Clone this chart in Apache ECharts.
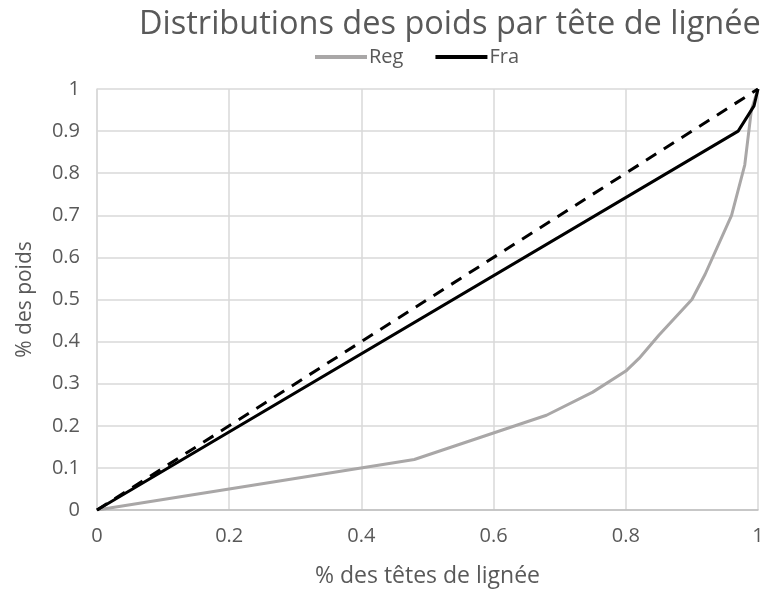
<!DOCTYPE html>
<html>
<head>
<meta charset="utf-8">
<script src="https://cdn.jsdelivr.net/npm/echarts@6/dist/echarts.min.js"></script>
<style>
  html, body { margin: 0; padding: 0; background: #fff; }
  #chart { width: 763px; height: 594px; }
</style>
</head>
<body>
<div id="chart"></div>
<script>
// Cumulative share of heads of lineage (x) vs cumulative share of weights (y)
const regX = [0, 0.2, 0.48, 0.68, 0.75, 0.80, 0.82, 0.85, 0.90, 0.92, 0.96, 0.98, 0.99, 1];
const regY = [0, 0.05, 0.12, 0.225, 0.28, 0.33, 0.36, 0.415, 0.50, 0.56, 0.70, 0.82, 0.95, 1];
const fraX = [0, 0.97, 0.994, 1];
const fraY = [0, 0.90, 0.96, 1];
const equalX = [0, 1];
const equalY = [0, 1];

const pairs = (xs, ys) => xs.map((x, i) => [x, ys[i]]);

const textColor = '#595959';
const font = 'Open Sans';

const chart = echarts.init(document.getElementById('chart'));
chart.setOption({
  animation: false,
  title: {
    text: 'Distributions des poids par tête de lignée',
    left: 134,
    top: 3,
    textStyle: { fontFamily: font, fontSize: 32.5, fontWeight: 'normal', color: textColor }
  },
  legend: {
    data: ['Reg', 'Fra'],
    left: 315,
    top: 47,
    padding: 0,
    itemWidth: 52,
    itemHeight: 4,
    itemGap: 32,
    icon: 'rect',
    textStyle: { fontFamily: font, fontSize: 20, color: textColor, padding: [0, 0, 0, -3] }
  },
  grid: { left: 97, right: 5, top: 89, bottom: 84, containLabel: false, outerBoundsMode: 'none' },
  xAxis: {
    type: 'value',
    min: 0, max: 1, interval: 0.2,
    name: '% des têtes de lignée',
    nameLocation: 'middle',
    nameGap: 55,
    nameTextStyle: { fontFamily: font, fontSize: 23, color: textColor },
    axisLine: { show: true, lineStyle: { color: '#bfbfbf', width: 1.5 } },
    axisTick: { show: false },
    axisLabel: { fontFamily: font, fontSize: 20, color: textColor, margin: 16 },
    splitLine: { show: true, lineStyle: { color: '#d9d9d9', width: 1.5 } }
  },
  yAxis: {
    type: 'value',
    min: 0, max: 1, interval: 0.1,
    name: '% des poids',
    nameLocation: 'middle',
    nameGap: 61,
    nameTextStyle: { fontFamily: font, fontSize: 21, color: textColor },
    axisLine: { show: true, lineStyle: { color: '#d9d9d9', width: 1.5 } },
    axisTick: { show: false },
    axisLabel: { fontFamily: font, fontSize: 20, color: textColor, margin: 17 },
    splitLine: { show: true, lineStyle: { color: '#d9d9d9', width: 1.5 } }
  },
  series: [
    {
      name: 'Reg', type: 'line', data: pairs(regX, regY),
      showSymbol: false, symbol: 'none',
      lineStyle: { color: '#a9a7a7', width: 3 }, itemStyle: { color: '#a9a7a7' }, z: 3
    },
    {
      name: 'Fra', type: 'line', data: pairs(fraX, fraY),
      showSymbol: false, symbol: 'none',
      lineStyle: { color: '#000', width: 3 }, itemStyle: { color: '#000' }, z: 4
    },
    {
      name: 'Égalité', type: 'line', data: pairs(equalX, equalY),
      showSymbol: false, symbol: 'none',
      lineStyle: { color: '#000', width: 3, type: [12, 9] }, itemStyle: { color: '#000' }, z: 4
    }
  ]
});
</script>
</body>
</html>
